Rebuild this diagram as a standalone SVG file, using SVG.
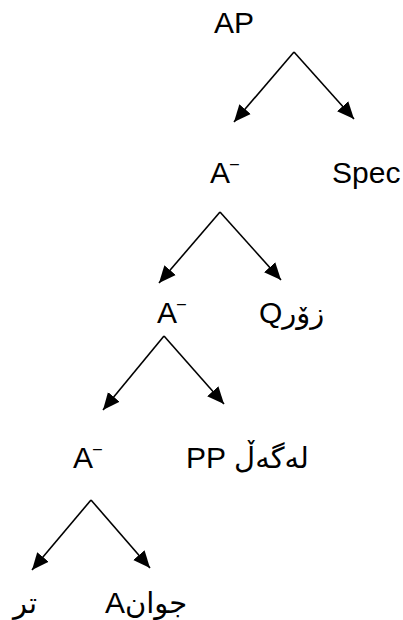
<svg xmlns="http://www.w3.org/2000/svg" width="403" height="620" viewBox="0 0 403 620">
<style>
text{font-family:"Liberation Sans","DejaVu Sans",sans-serif;font-size:30px;fill:#000}
.sup{font-size:16px}
.ar{font-size:29px}
line{stroke:#000;stroke-width:1.6;fill:none}
</style>
<defs>
<marker id="ah" markerUnits="userSpaceOnUse" markerWidth="18" markerHeight="16" refX="17" refY="8" orient="auto">
<path d="M0,0.5 L17,8 L0,15.5 Z" fill="#000"/>
</marker>
</defs>
<rect width="403" height="620" fill="#fff"/>
<g id="connectors">
<line x1="294" y1="52" x2="234" y2="122" marker-end="url(#ah)"/>
<line x1="294" y1="52" x2="354" y2="119" marker-end="url(#ah)"/>
<line x1="220" y1="212" x2="159" y2="283" marker-end="url(#ah)"/>
<line x1="220" y1="212" x2="281" y2="280" marker-end="url(#ah)"/>
<line x1="164" y1="336" x2="103" y2="410" marker-end="url(#ah)"/>
<line x1="164" y1="336" x2="224" y2="404" marker-end="url(#ah)"/>
<line x1="91" y1="500" x2="32" y2="570" marker-end="url(#ah)"/>
<line x1="91" y1="500" x2="150" y2="568" marker-end="url(#ah)"/>
</g>
<g id="AP"><text x="214" y="33">AP</text></g>
<g id="Abar1"><text x="210" y="183">A<tspan class="sup" dy="-14">–</tspan></text></g>
<g id="Spec"><text x="332" y="183">Spec</text></g>
<g id="Abar2"><text x="157" y="323">A<tspan class="sup" dy="-14">–</tspan></text></g>
<g id="Q"><text x="259" y="323" direction="ltr" unicode-bidi="embed">Q<tspan class="ar">زۆر</tspan></text></g>
<g id="Abar3"><text x="73" y="468">A<tspan class="sup" dy="-14">–</tspan></text></g>
<g id="PP"><text x="186" y="468" direction="ltr" unicode-bidi="embed">PP<tspan class="ar"> لەگەڵ</tspan></text></g>
<g id="tr"><text x="13" y="613" class="ar">تر</text></g>
<g id="A"><text x="105" y="613" direction="ltr" unicode-bidi="embed">A<tspan class="ar">جوان</tspan></text></g>
</svg>
